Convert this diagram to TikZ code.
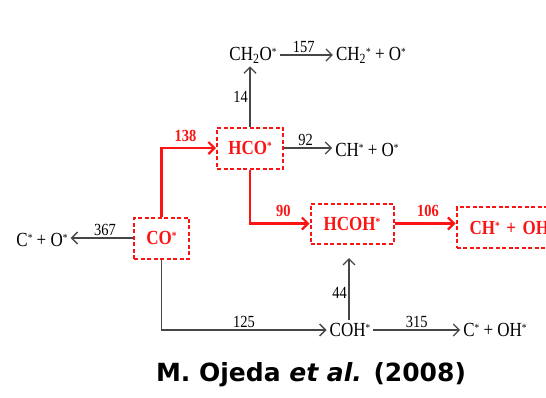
\documentclass[tikz,border=0pt]{standalone}
\usepackage{fontspec}
\setmainfont{Liberation Serif}[FakeStretch=0.85]
\newfontfamily\citefont{DejaVu Sans}
\usetikzlibrary{arrows.meta}
\definecolor{rxred}{RGB}{250,20,20}
\definecolor{rxgray}{RGB}{70,70,70}
\newcommand{\st}{\raisebox{5pt}{\fontsize{11}{11}\selectfont *}}
\tikzset{
  chem/.style={font=\fontsize{20}{22}\selectfont, text=black, inner sep=3pt},
  redbox/.style={draw=rxred, line width=2pt, dash pattern=on 4pt off 2.5pt, text=rxred,
     font=\fontsize{20}{22}\selectfont\bfseries, inner sep=0pt},
  garr/.style={draw=rxgray, line width=1.3pt, -{Straight Barb[length=6pt,width=12pt,line width=1.3pt]}},
  rarr/.style={draw=rxred, line width=2.2pt, -{Straight Barb[length=6pt,width=12pt,line width=2.2pt]}},
  glab/.style={font=\fontsize{17}{18}\selectfont, text=black, inner sep=1.5pt},
  rlab/.style={font=\fontsize{17}{18}\selectfont\bfseries, text=rxred, inner sep=1.5pt, yshift=4pt},
}
\begin{document}
\begin{tikzpicture}[x=1pt,y=-1pt]
\useasboundingbox (0,0) rectangle (546,397);
\clip (0,0) rectangle (546,397);
% boxes
\node[redbox, minimum width=55pt, minimum height=41pt] (co) at (161.5,238) {CO\st};
\node[redbox, minimum width=66pt, minimum height=41pt] (hco) at (250,148) {HCO\st};
\node[redbox, minimum width=83pt, minimum height=40pt] (hcoh) at (352,223.5) {HCOH\st};
\node[redbox, minimum height=41pt, anchor=west, text width=100pt, align=left, inner xsep=13pt] (choh) at (455.5,227.5) {CH\st{} + OH\st};
% plain species
\node[chem] (ch2o) at (253,55) {CH\textsubscript{2}O\st};
\node[chem] (ch2p) at (371,55) {CH\textsubscript{2}\st{} + O\st};
\node[chem] (chO) at (367,150) {CH\st{} + O\st};
\node[chem] (cO) at (42,240) {C\st{} + O\st};
\node[chem] (coh) at (350,330) {COH\st};
\node[chem] (cOH) at (495,330) {C\st{} + OH\st};
% gray arrows
\draw[garr] (ch2o.east) -- node[glab, above, pos=0.45] {157} (ch2o.east -| ch2p.west);
\draw[garr] (hco.north) -- node[glab, left, pos=0.5] {14} (hco.north |- ch2o.south);
\draw[garr] (hco.east) -- node[glab, above, pos=0.45] {92} (hco.east -| chO.west);
\draw[garr] (co.west) -- node[glab, above, pos=0.45] {367} (co.west -| cO.east);
\draw[garr] (co.south) |- node[glab, above, pos=0.75] {125} (coh.west);
\draw[garr] (coh.east) -- node[glab, above, pos=0.5] {315} (cOH.west);
\draw[garr, shorten >=15pt] (coh.north -| 349,0) -- node[glab, left, pos=0.35] {44} (349,243);
% red arrows
\draw[rarr] (co.north) |- node[rlab, above, pos=0.72] {138} (hco.west);
\draw[rarr] (hco.south) |- node[rlab, above, pos=0.78] {90} (hcoh.west);
\draw[rarr] (hcoh.east) -- node[rlab, above, pos=0.55] {106} (hcoh.east -| choh.west);
% citation
\node[font=\citefont\fontsize{25}{28}\selectfont\bfseries, inner sep=0pt] (cite) at (311,375) {M. Ojeda \textit{et al.} (2008)};
\end{tikzpicture}
\end{document}
